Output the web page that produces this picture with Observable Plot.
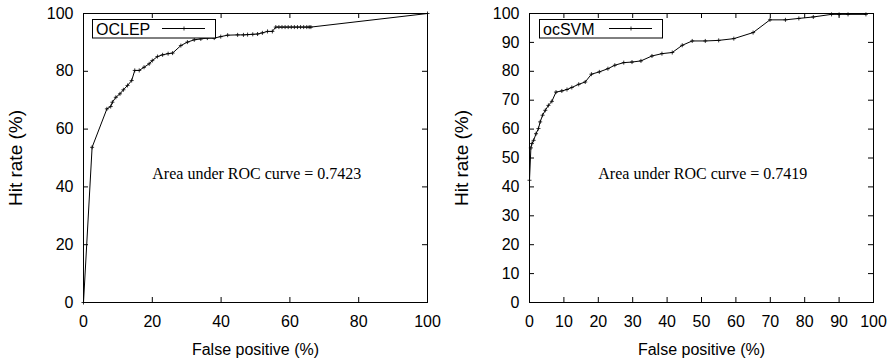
<!DOCTYPE html>
<html>
<head>
<meta charset="utf-8">
<script src="https://cdn.jsdelivr.net/npm/d3@7"></script>
<script src="https://cdn.jsdelivr.net/npm/@observablehq/plot@0.6"></script>
<style>
  html, body { margin: 0; padding: 0; background: white; }
  #chart { position: relative; width: 893px; height: 361px; overflow: hidden; background: white; }
  #chart > svg, #chart > .legend { position: absolute; }
</style>
</head>
<body>
<div id="chart"></div>
<script>
// ---- Data ----
const leftName = "OCLEP";
const leftAUC = "Area under ROC curve = 0.7423";
const leftFP = [0, 2.5, 6.8, 7.9, 8.4, 9.4, 10.6, 11.6, 12.8, 14.0,
  14.9, 16.2, 17.6, 19.1, 20.0, 21.5, 23.0, 24.6, 25.9, 28.3,
  30.2, 32.2, 34.1, 36.0, 38.0, 39.9, 41.9, 44.8, 46.5, 47.7,
  49.2, 50.6, 52.0, 53.5, 54.9, 55.9, 56.8, 57.7, 58.6, 59.5,
  60.4, 61.3, 62.2, 63.1, 64.0, 64.9, 65.6, 66.1, 100];
const leftHR = [0, 53.7, 67.0, 67.8, 69.3, 71.0, 72.2, 73.6, 75.1, 76.8,
  80.3, 80.3, 81.4, 82.6, 83.7, 85.1, 85.7, 86.1, 86.3, 88.9,
  90.1, 90.9, 91.2, 91.5, 91.5, 92.0, 92.5, 92.6, 92.6, 92.7,
  92.8, 92.9, 93.3, 93.8, 93.8, 95.3, 95.3, 95.3, 95.3, 95.3,
  95.3, 95.3, 95.3, 95.3, 95.3, 95.3, 95.3, 95.3, 100];
const leftXTicks = [0, 20, 40, 60, 80, 100];
const leftYTicks = [0, 20, 40, 60, 80, 100];

const rightName = "ocSVM";
const rightAUC = "Area under ROC curve = 0.7419";
const rightFP = [0, 0.4, 0.7, 1.2, 1.9, 2.6, 3.1, 3.8, 4.6, 5.5,
  6.5, 7.7, 9.4, 10.9, 12.3, 14.3, 16.2, 18.0, 20.3, 22.8,
  24.8, 27.4, 29.8, 32.4, 35.6, 38.5, 41.5, 44.4, 47.3, 51.1,
  55.0, 59.4, 65.0, 69.9, 74.4, 78.3, 82.5, 87.8, 90.0, 92.6,
  97.8];
const rightHR = [42.3, 53.5, 55.0, 56.1, 58.4, 60.2, 62.5, 64.8, 66.5, 68.2,
  69.6, 72.8, 73.2, 73.7, 74.4, 75.5, 76.3, 79.0, 79.8, 80.9,
  82.1, 83.0, 83.2, 83.6, 85.3, 86.1, 86.5, 89.0, 90.5, 90.5,
  90.7, 91.3, 93.4, 97.8, 97.8, 98.3, 98.8, 99.7, 99.7, 99.7,
  99.7];
const rightXTicks = [0, 10, 20, 30, 40, 50, 60, 70, 80, 90, 100];
const rightYTicks = [0, 10, 20, 30, 40, 50, 60, 70, 80, 90, 100];

const xLabel = "False positive (%)";
const yLabel = "Hit rate (%)";

// ---- Drawing ----
const SANS = "'Liberation Sans', Arial, Helvetica, sans-serif";
const SERIF = "'Liberation Serif', 'Times New Roman', Times, serif";

function panel(fp, hr, xticks, yticks, auc, marginLeft, marginRight) {
  const data = fp.map((x, i) => ({x, y: hr[i]}));
  return Plot.plot({
    width: 446,
    height: 361,
    marginTop: 13,
    marginBottom: 59,
    marginLeft,
    marginRight,
    style: {fontFamily: SANS, fontSize: "16px", color: "black", background: "white", overflow: "visible"},
    x: {domain: [0, 100]},
    y: {domain: [0, 100]},
    marks: [
      // inward tick marks on all four sides
      Plot.ruleX(xticks, {x: d => d, y1: 0, y2: 0, insetTop: -5, stroke: "black"}),
      Plot.ruleX(xticks, {x: d => d, y1: 100, y2: 100, insetBottom: -5, stroke: "black"}),
      Plot.ruleY(yticks, {y: d => d, x1: 0, x2: 0, insetRight: -5, stroke: "black"}),
      Plot.ruleY(yticks, {y: d => d, x1: 100, x2: 100, insetLeft: -5, stroke: "black"}),
      Plot.axisX(xticks, {tickSize: 0, tickPadding: 13, label: xLabel, labelAnchor: "center", labelArrow: "none", labelOffset: 52}),
      Plot.axisY(yticks, {tickSize: 0, tickPadding: 10, label: null}),
      Plot.text([yLabel], {frameAnchor: "left", rotate: -90, dx: -68, text: d => d, textAnchor: "middle", lineAnchor: "middle", fontSize: 19, fill: "black"}),
      Plot.line(data, {x: "x", y: "y", stroke: "black", strokeWidth: 1}),
      Plot.dot(data, {x: "x", y: "y", symbol: "plus", r: 1.4, stroke: "black", strokeWidth: 0.8}),
      Plot.text([auc], {x: 20, y: 44.5, text: d => d, textAnchor: "start", fontFamily: SERIF, fontSize: 16, fill: "black"}),
      Plot.frame({stroke: "black", strokeWidth: 1})
    ]
  });
}

function legend(name, left) {
  const svg = d3.create("svg")
    .attr("class", "legend")
    .attr("width", 126).attr("height", 21)
    .style("left", left + "px").style("top", "18px");
  svg.append("rect").attr("x", 1.5).attr("y", 1.5).attr("width", 123).attr("height", 18.5)
    .attr("fill", "white").attr("stroke", "black").attr("stroke-width", 1);
  svg.append("text").attr("x", 5).attr("y", 16.5).attr("font-family", SANS).attr("font-size", 16)
    .attr("fill", "black").text(name);
  svg.append("line").attr("x1", 71).attr("x2", 114).attr("y1", 10.5).attr("y2", 10.5)
    .attr("stroke", "black").attr("stroke-width", 1);
  svg.append("path").attr("d", "M91,10.5h4M93,8.5v4").attr("stroke", "black").attr("stroke-width", 0.8);
  return svg.node();
}

const chart = document.getElementById("chart");
const left = panel(leftFP, leftHR, leftXTicks, leftYTicks, leftAUC, 83, 19);
left.style.left = "0px"; left.style.top = "0px";
const right = panel(rightFP, rightHR, rightXTicks, rightYTicks, rightAUC, 82, 20);
right.style.left = "447px"; right.style.top = "0px";
chart.appendChild(left);
chart.appendChild(right);
chart.appendChild(legend(leftName, 91));
chart.appendChild(legend(rightName, 538));
</script>
</body>
</html>
